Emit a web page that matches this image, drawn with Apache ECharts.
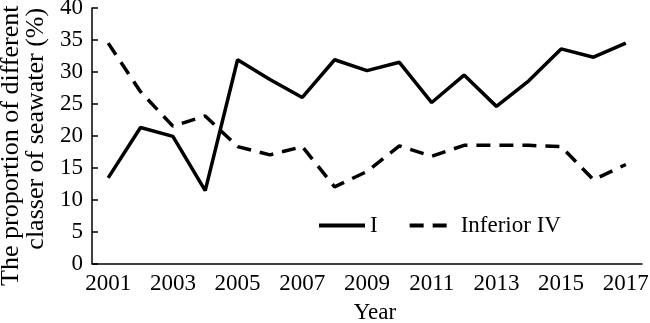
<!DOCTYPE html>
<html><head><meta charset="utf-8">
<script src="https://cdn.jsdelivr.net/npm/echarts@6/dist/echarts.min.js"></script>
<style>html,body{margin:0;padding:0;background:#fff}#c{width:650px;height:323px}</style>
</head><body><div id="c"></div>
<script>
const years = ['2001','2002','2003','2004','2005','2006','2007','2008','2009','2010','2011','2012','2013','2014','2015','2016','2017'];
const seriesI = [13.4,21.3,19.9,11.4,31.9,28.8,26.0,31.9,30.2,31.5,25.2,29.5,24.6,28.6,33.6,32.3,34.5];
const seriesIV = [34.5,26.9,21.5,23.1,18.3,17.0,18.3,12.0,14.4,18.4,16.8,18.5,18.5,18.5,18.3,13.1,15.5];
const yTicks = [0,5,10,15,20,25,30,35,40];
const font = 'Liberation Serif';
const chart = echarts.init(document.getElementById('c'));
chart.setOption({
  animation:false,
  backgroundColor:'#fff',
  grid:{left:92,right:8,top:8,bottom:59.5,containLabel:false,outerBoundsMode:'none'},
  legend:{
    left:317, top:214, padding:0, itemWidth:46, itemHeight:18, itemGap:30,
    itemStyle:{opacity:0},
    lineStyle:{width:4},
    textStyle:{fontFamily:font,fontSize:23,color:'#000'},
    data:['I','Inferior IV']
  },
  xAxis:{
    type:'category', data:years, boundaryGap:true,
    name:'Year', nameLocation:'middle', nameGap:38,
    nameTextStyle:{fontFamily:font,fontSize:23,color:'#000',padding:[0,0,0,16]},
    axisLine:{lineStyle:{color:'#000',width:1.5}},
    axisTick:{inside:true,length:6,alignWithLabel:true,interval:1,lineStyle:{color:'#000',width:1.5}},
    axisLabel:{interval:1,fontFamily:font,fontSize:23,color:'#000',margin:9},
    splitLine:{show:false}
  },
  yAxis:{
    type:'value', min:yTicks[0], max:yTicks[yTicks.length-1], interval:5,
    name:'{a|The proportion of different}\n{b|classer of seawater (%)}',
    nameLocation:'middle', nameGap:38, nameRotate:90,
    nameTextStyle:{fontFamily:font,fontSize:26,color:'#000',lineHeight:25,padding:[0,20,0,0],
      rich:{
        a:{fontFamily:font,fontSize:26,color:'#000',lineHeight:25},
        b:{fontFamily:font,fontSize:26,color:'#000',lineHeight:25,padding:[0,0,0,34]}
      }},
    axisLine:{show:true,lineStyle:{color:'#000',width:1.5}},
    axisTick:{show:true,inside:true,length:6,lineStyle:{color:'#000',width:1.5}},
    axisLabel:{fontFamily:font,fontSize:23,color:'#000',margin:9},
    splitLine:{show:false}
  },
  series:[
    {name:'I',type:'line',data:seriesI,symbol:'none',lineStyle:{color:'#000',width:3.5,type:'solid'},itemStyle:{color:'#000'}},
    {name:'Inferior IV',type:'line',data:seriesIV,symbol:'none',lineStyle:{color:'#000',width:3.5,type:[14,9]},itemStyle:{color:'#000'}}
  ]
});
</script></body></html>
